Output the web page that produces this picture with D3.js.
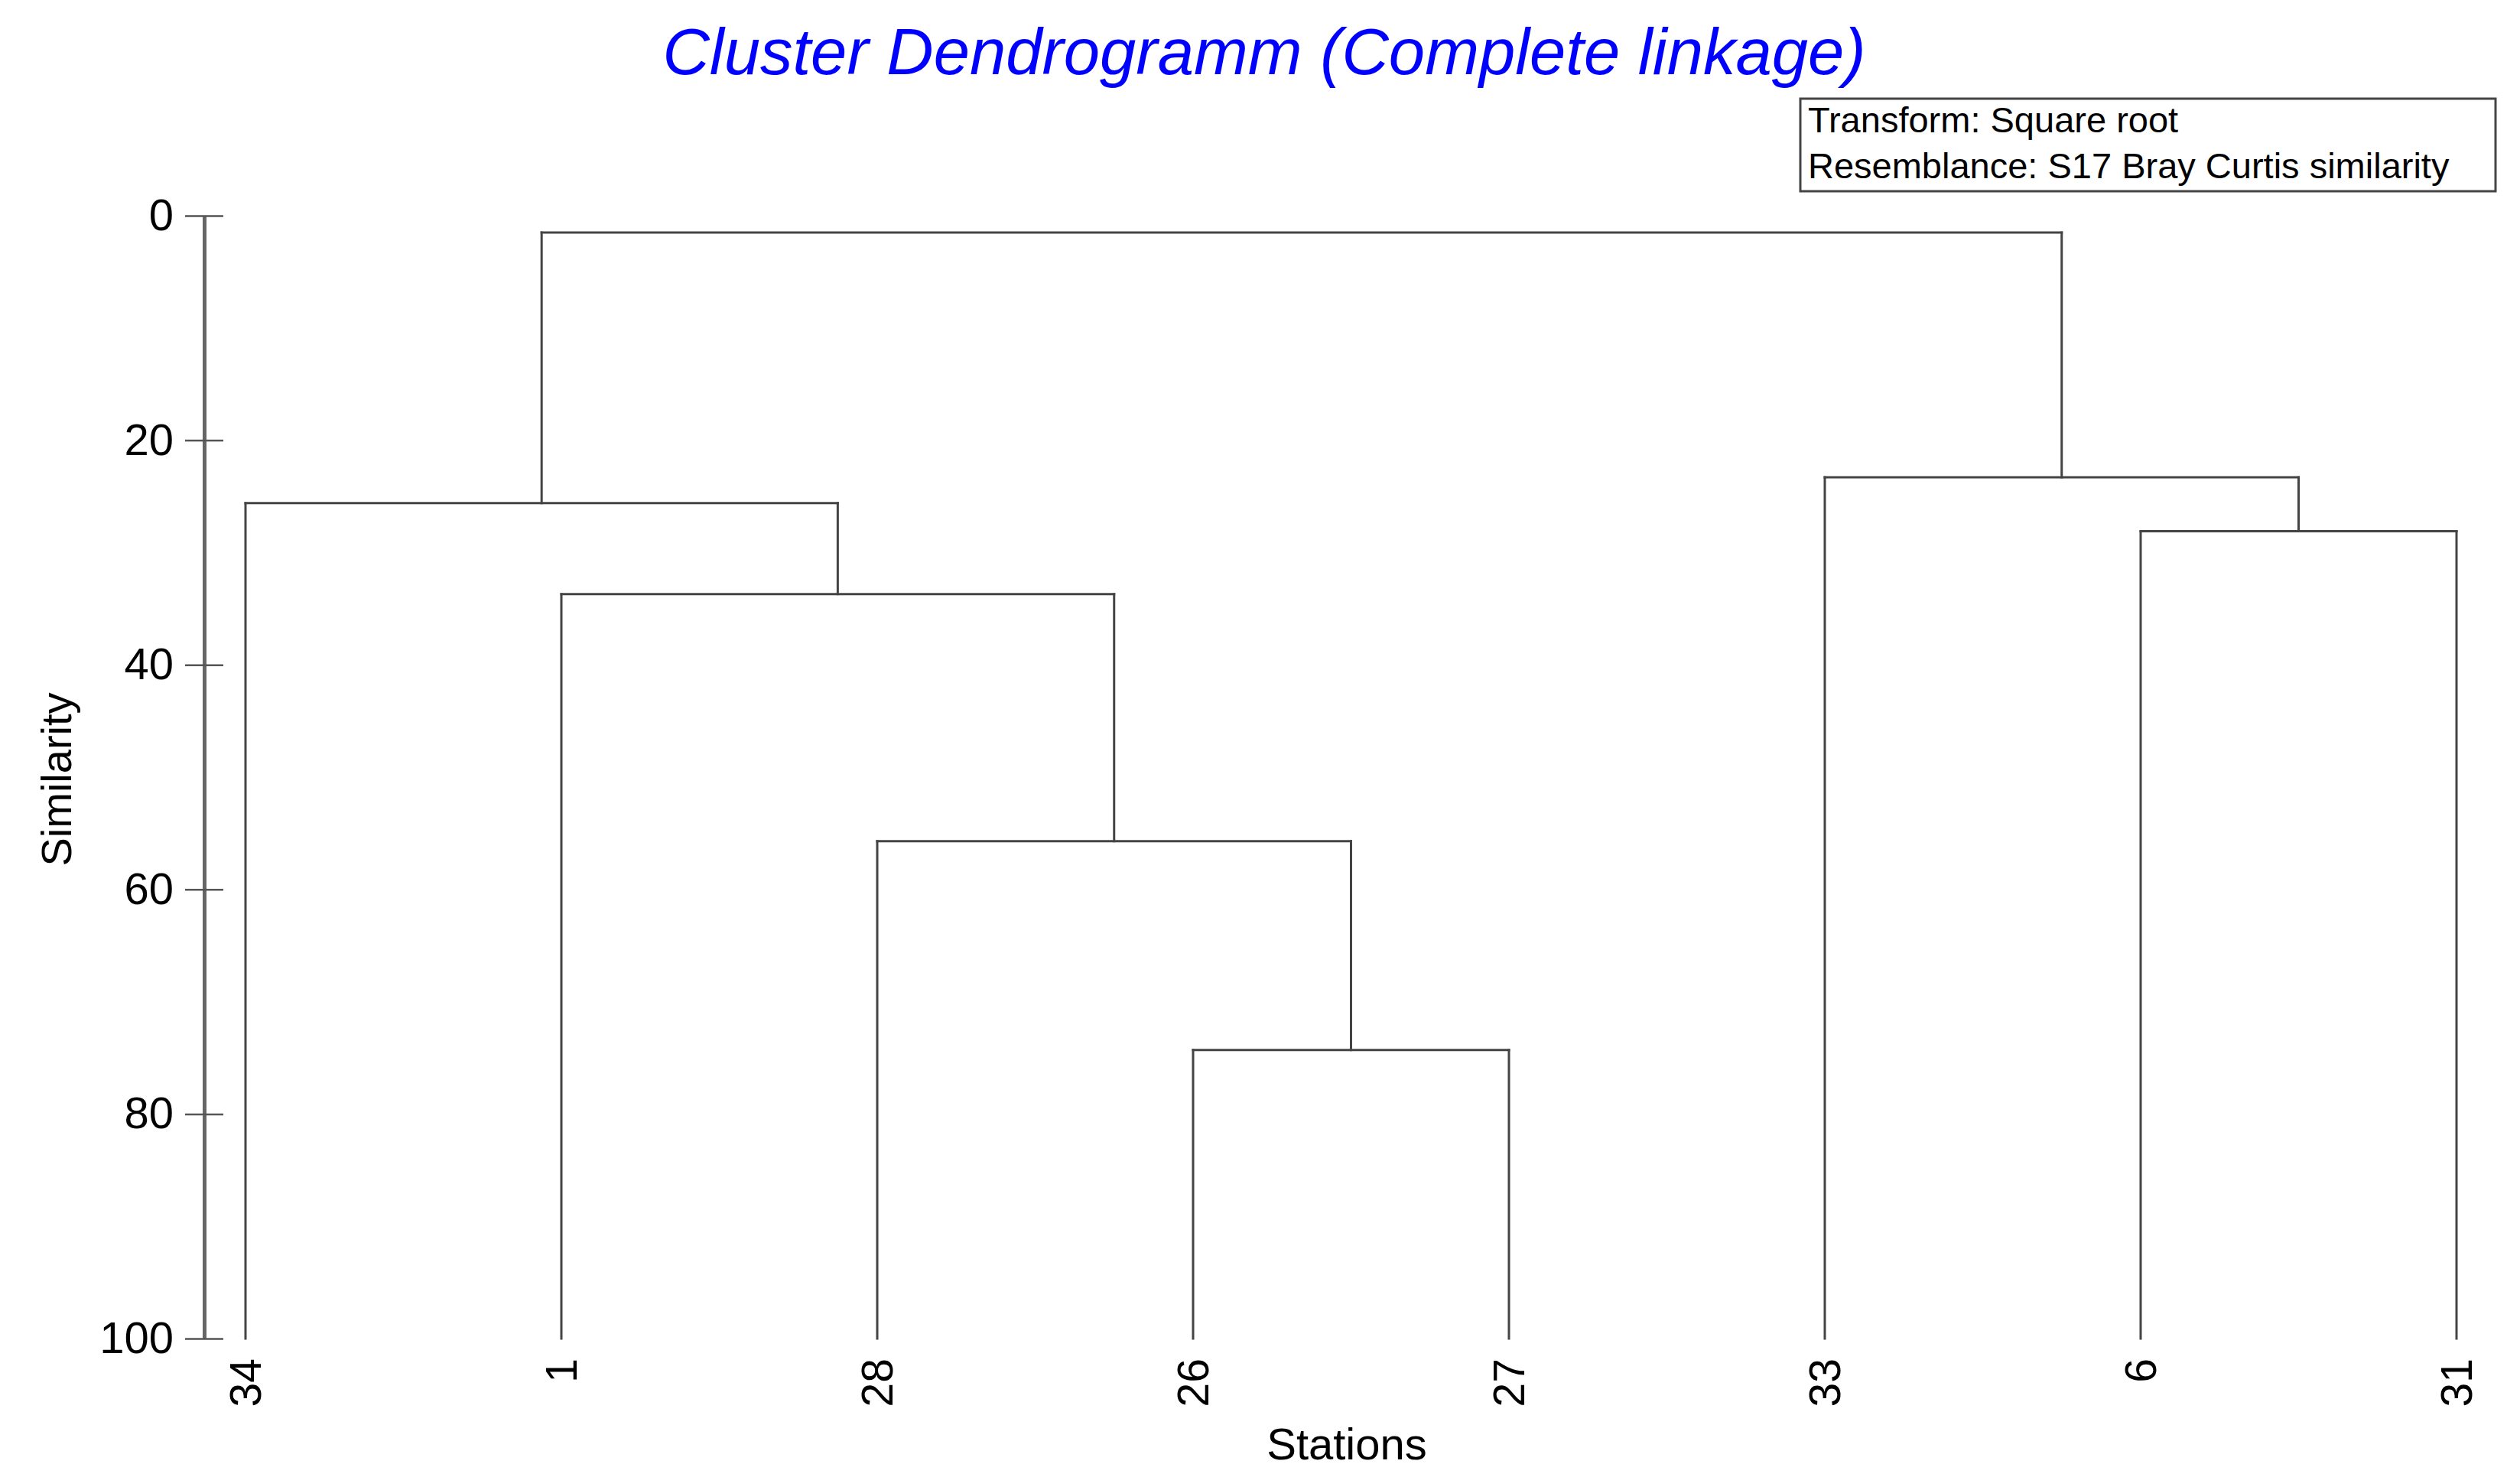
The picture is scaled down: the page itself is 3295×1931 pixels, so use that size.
<!DOCTYPE html>
<html>
<head>
<meta charset="utf-8">
<script src="https://cdn.jsdelivr.net/npm/d3@7"></script>
<style>
  html, body { margin: 0; padding: 0; background: #fff; }
  svg { display: block; font-family: 'Liberation Sans', Arial, sans-serif; }
</style>
</head>
<body>
<div id="chart"></div>
<script>
// Leaf order along the x axis
const stations = ['34', '1', '28', '26', '27', '33', '6', '31']

// Linkage steps: the two joined nodes (station or earlier cluster "cN") and the similarity level
const mergeLeft = ['26', '28', '1', '34', '6', '33', 'c4']
const mergeRight = ['27', 'c1', 'c2', 'c3', '31', 'c5', 'c6']
const mergeSimilarity = [74.3, 55.7, 33.7, 25.6, 28.1, 23.3, 1.5]

const yTicks = [0, 20, 40, 60, 80, 100]
const infoLines = ['Transform: Square root', 'Resemblance: S17 Bray Curtis similarity']

const W = 3295, H = 1931

const svg = d3.select('#chart').append('svg').attr('width', W).attr('height', H)
svg.append('rect').attr('width', W).attr('height', H).attr('fill', '#fff')

const x = d3.scalePoint().domain(stations).range([321, 3212])
const y = d3.scaleLinear().domain([0, 100]).range([282, 1750])

// Title
svg.append('text')
  .attr('x', 1653).attr('y', 97)
  .attr('text-anchor', 'middle')
  .style('font-size', '85px').style('font-style', 'italic')
  .attr('fill', '#0000ff')
  .text('Cluster Dendrogramm (Complete linkage)')

// Info box
const box = svg.append('g')
box.append('rect')
  .attr('x', 2354).attr('y', 129).attr('width', 909).attr('height', 121)
  .attr('fill', '#fff').attr('stroke', '#444').attr('stroke-width', 3)
box.selectAll('text').data(infoLines).join('text')
  .attr('x', 2364).attr('y', (d, i) => 173 + i * 60)
  .style('font-size', '47px').attr('fill', '#000')
  .text(d => d)

// Y axis
const yAxis = svg.append('g')
  .attr('transform', 'translate(267,0)')
  .call(d3.axisLeft(y).tickValues(yTicks).tickSize(25).tickSizeOuter(0).tickPadding(15))
yAxis.select('.domain').attr('stroke', '#666').attr('stroke-width', 5)
yAxis.selectAll('.tick line').attr('x1', 25).attr('stroke', '#555').attr('stroke-width', 2.5)
yAxis.selectAll('.tick text').style('font-size', '58px').attr('fill', '#000')
  .style('font-family', "'Liberation Sans', Arial, sans-serif")

svg.append('text')
  .attr('transform', 'translate(73,1019) rotate(-90)')
  .attr('text-anchor', 'middle').attr('dy', '0.35em')
  .style('font-size', '56px').attr('fill', '#000')
  .text('Similarity')

// Build node positions from the linkage
const nodes = {}
stations.forEach(s => { nodes[s] = { x: x(s), h: 100 } })
const segments = []
mergeLeft.forEach((a, i) => {
  const b = mergeRight[i], h = mergeSimilarity[i]
  const na = nodes[a], nb = nodes[b]
  segments.push([na.x, y(na.h), na.x, y(h)])
  segments.push([nb.x, y(nb.h), nb.x, y(h)])
  segments.push([na.x, y(h), nb.x, y(h)])
  nodes['c' + (i + 1)] = { x: (na.x + nb.x) / 2, h }
})

svg.append('g').selectAll('line').data(segments).join('line')
  .attr('x1', d => d[0]).attr('y1', d => d[1])
  .attr('x2', d => d[2]).attr('y2', d => d[3])
  .attr('stroke', '#444').attr('stroke-width', 3)
  .attr('stroke-linecap', 'square')

// Leaf labels
svg.append('g').selectAll('text').data(stations).join('text')
  .attr('transform', d => `translate(${x(d)},1776) rotate(-90)`)
  .attr('text-anchor', 'end').attr('dy', '0.35em')
  .style('font-size', '57px').attr('fill', '#000')
  .text(d => d)

svg.append('text')
  .attr('x', 1761).attr('y', 1908)
  .attr('text-anchor', 'middle')
  .style('font-size', '58px').attr('fill', '#000')
  .text('Stations')
</script>
</body>
</html>
